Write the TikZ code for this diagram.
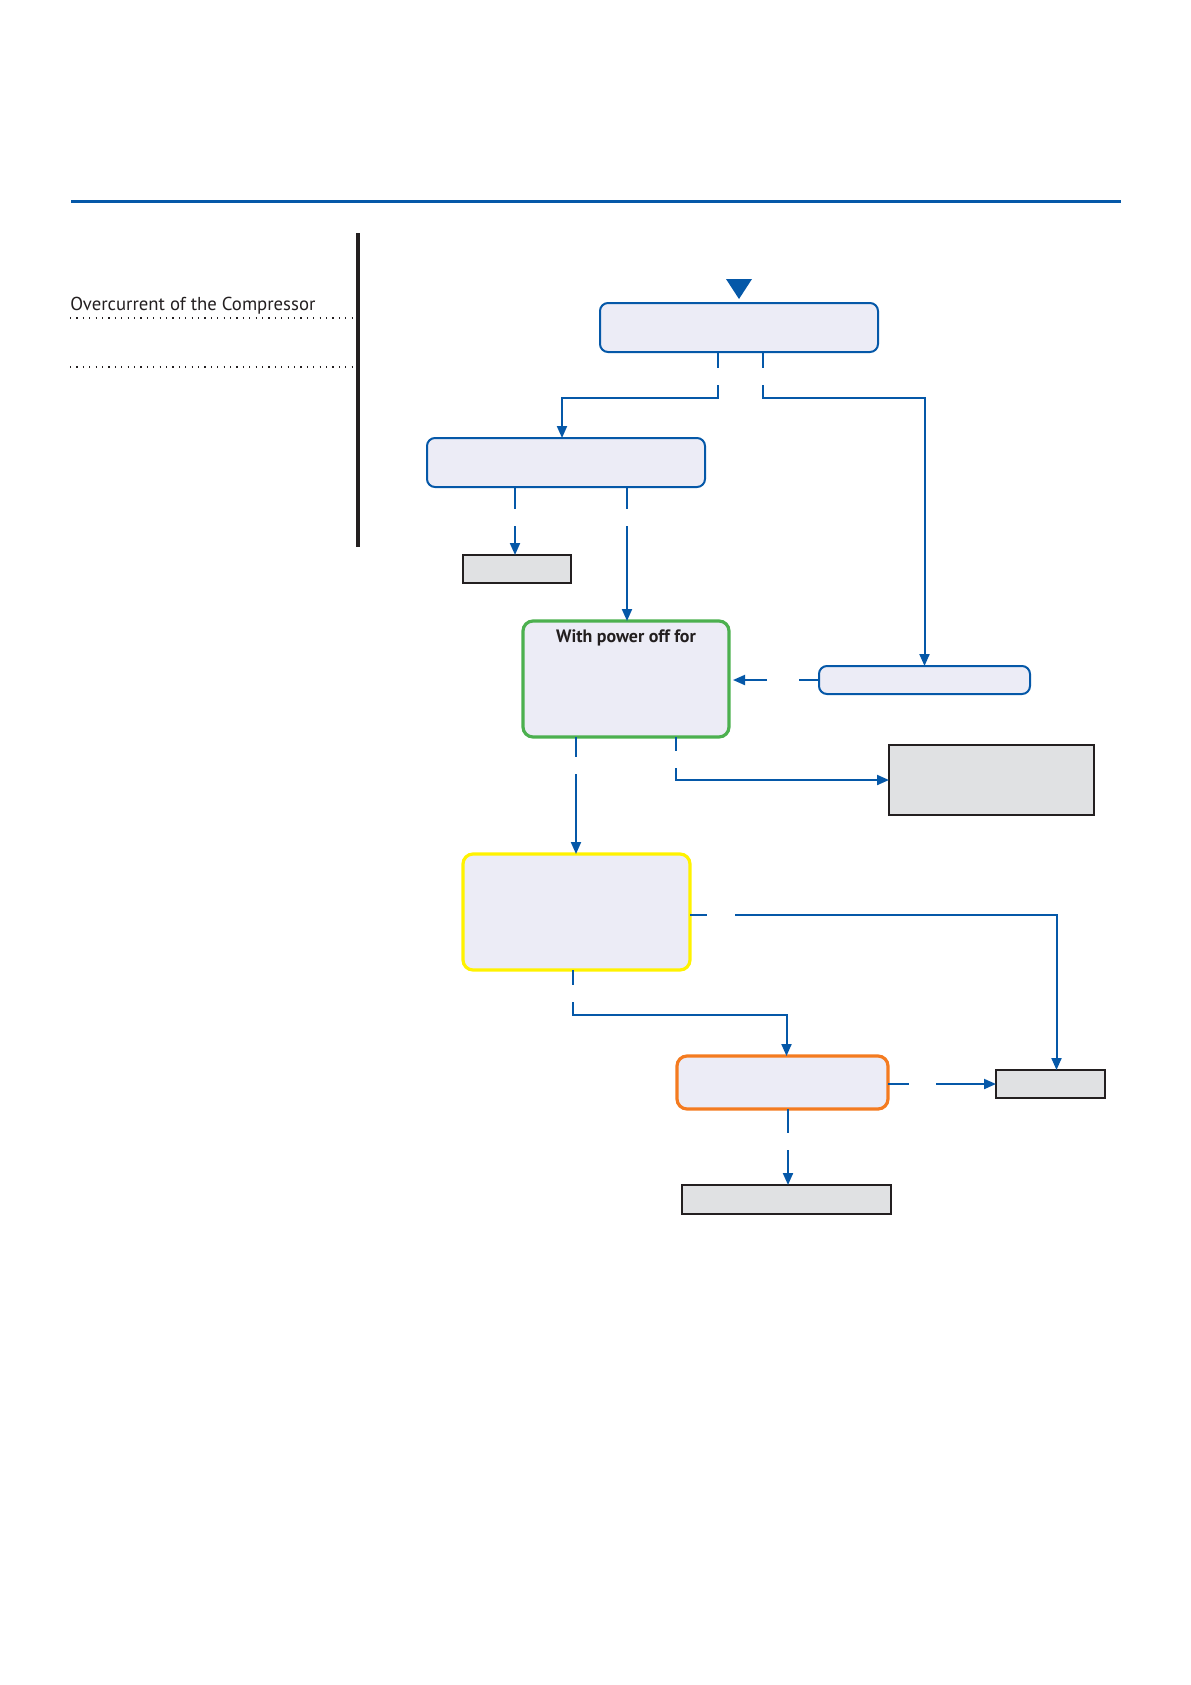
\documentclass[tikz,border=0pt]{standalone}
\usepackage{fontspec}
\setmainfont{PT Sans}
\usetikzlibrary{arrows.meta}
\definecolor{myblue}{HTML}{0558A8}
\definecolor{mylav}{HTML}{ECECF6}
\definecolor{mygray}{HTML}{E0E1E3}
\definecolor{mydark}{HTML}{231F20}
\definecolor{mygreen}{HTML}{4CB04F}
\definecolor{myyellow}{HTML}{FFF200}
\definecolor{myorange}{HTML}{F47B20}
\begin{document}
\begin{tikzpicture}[x=0.5bp,y=-0.5bp,
  conn/.style={draw=myblue,line width=1bp},
  arr/.style={conn,-{Triangle[length=6bp,width=5bp]}},
  pbox/.style={draw=myblue,fill=mylav,line width=1bp,rounded corners=4bp,inner sep=0pt,outer sep=0pt},
  cbox/.style={fill=mylav,line width=1.6bp,rounded corners=5bp,inner sep=0pt,outer sep=0pt},
  gbox/.style={draw=mydark,fill=mygray,line width=1bp,inner sep=0pt,outer sep=0pt},
  dotline/.style={draw=mydark,line width=0.6bp,dash pattern=on 0.6bp off 2.6bp}
]
\useasboundingbox (0,0) rectangle (1191,1685);

% header and side panel
\draw[myblue,line width=1.5bp] (71,201) -- (1121,201);
\node[anchor=base west,inner sep=0pt,font=\fontsize{9.4}{11}\selectfont,text=mydark] (title) at (70,310) {Overcurrent of the Compressor};
\draw[dotline] (70,318) -- (357,318);
\draw[dotline] (70,367) -- (357,367);
\draw[mydark,line width=2bp] (358,233) -- (358,547);

% boxes
\node[pbox,minimum width=139bp,minimum height=24.5bp] (top) at (739,327.5) {};
\node[pbox,minimum width=139bp,minimum height=24.5bp] (box2) at (566,462.5) {};
\node[gbox,minimum width=54bp,minimum height=14bp] (gray1) at (517,569) {};
\node[cbox,draw=mygreen,minimum width=103bp,minimum height=58bp] (green) at (626,679) {};
\node[anchor=base,inner sep=0pt,font=\bfseries\fontsize{9}{11}\selectfont,text=mydark] (greentext) at (626,642) {With power off for};
\node[pbox,minimum width=105.5bp,minimum height=14bp] (rbox) at (924.5,680) {};
\node[gbox,minimum width=102.5bp,minimum height=35bp] (gray2) at (991.5,780) {};
\node[cbox,draw=myyellow,minimum width=113.5bp,minimum height=58bp] (yellow) at (576.5,912) {};
\node[cbox,draw=myorange,minimum width=105.5bp,minimum height=26.5bp] (orange) at (782.5,1082.5) {};
\node[gbox,minimum width=54.5bp,minimum height=14bp] (gray3) at (1050.5,1084) {};
\node[gbox,minimum width=104.5bp,minimum height=14.5bp] (gray4) at (786.5,1199.5) {};

% start marker
\fill[myblue] (726,279) -- (752,279) -- (739,299) -- cycle;

% connectors
\coordinate (c1a) at (718,368); \coordinate (c1b) at (718,385);
\draw[conn] (c1a |- top.south) -- (c1a);
\draw[arr] (c1b) -- (718,398) -| ([xshift=-2bp]box2.north);

\coordinate (c2a) at (763,368); \coordinate (c2b) at (763,385);
\draw[conn] (c2a |- top.south) -- (c2a);
\draw[arr] (c2b) -- (763,398) -| (rbox.north);

\coordinate (c3a) at (515,509); \coordinate (c3b) at (515,526);
\draw[conn] (c3a |- box2.south) -- (c3a);
\draw[arr] (c3b) -- (c3b |- gray1.north);

\coordinate (c4a) at (627,509); \coordinate (c4b) at (627,526);
\draw[conn] (c4a |- box2.south) -- (c4a);
\draw[arr] (c4b) -- (c4b |- green.north);

\coordinate (c5a) at (799,680); \coordinate (c5b) at (767,680);
\draw[conn] (rbox.west) -- (c5a);
\draw[arr] (c5b) -- ([xshift=2bp]c5b -| green.east);

\coordinate (c6a) at (576,757); \coordinate (c6b) at (576,774);
\draw[conn] (c6a |- green.south) -- (c6a);
\draw[arr] (c6b) -- (c6b |- yellow.north);

\coordinate (c7a) at (676,751); \coordinate (c7b) at (676,768);
\draw[conn] (c7a |- green.south) -- (c7a);
\draw[arr] (c7b) |- (gray2.west);

\coordinate (c8a) at (707,915); \coordinate (c8b) at (735,915);
\draw[conn] (c8a -| yellow.east) -- (c8a);
\draw[arr] (c8b) -| ([xshift=3bp]gray3.north);

\coordinate (c9a) at (573,985); \coordinate (c9b) at (573,1002);
\draw[conn] (c9a |- yellow.south) -- (c9a);
\draw[arr] (c9b) -- (573,1015) -| ([xshift=2bp]orange.north);

\coordinate (c10a) at (909,1084); \coordinate (c10b) at (936,1084);
\draw[conn] (c10a -| orange.east) -- (c10a);
\draw[arr] (c10b) -- (c10b -| gray3.west);

\coordinate (c11a) at (788,1133); \coordinate (c11b) at (788,1150);
\draw[conn] (c11a |- orange.south) -- (c11a);
\draw[arr] (c11b) -- (c11b |- gray4.north);
\end{tikzpicture}
\end{document}
